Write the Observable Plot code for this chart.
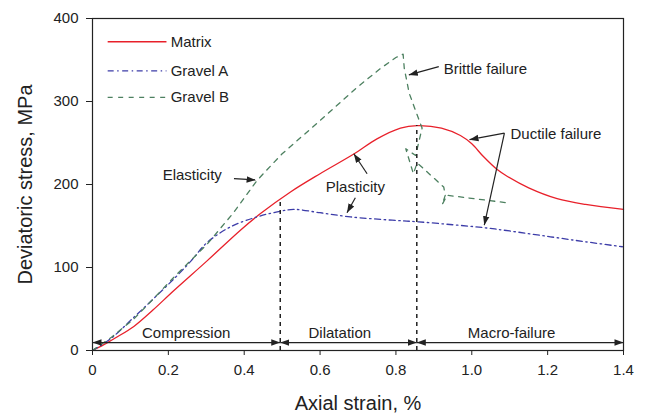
<!DOCTYPE html>
<html><head><meta charset="utf-8">
<script src="https://cdn.jsdelivr.net/npm/d3@7"></script>
<script src="https://cdn.jsdelivr.net/npm/@observablehq/plot@0.6"></script>
<style>
html,body{margin:0;padding:0;background:#fff;}
#chart{width:646px;height:414px;}
</style></head><body><div id="chart"></div>
<script>
// ---------- data ----------
const seriesNames = ["Matrix", "Gravel A", "Gravel B"];

const matrixStrain = [0, 0.03, 0.06, 0.109, 0.16, 0.214, 0.302, 0.39, 0.443, 0.522, 0.6, 0.69, 0.75, 0.812, 0.856, 0.92, 0.97, 1.0, 1.03, 1.067, 1.093, 1.15, 1.225, 1.3, 1.4];
const matrixStress = [0, 7, 15, 29, 49, 72, 108, 145, 165, 191, 213, 237, 255, 268, 271, 268, 259, 249, 234, 218, 210, 196, 183, 176, 170];

const gravelAStrain = [0, 0.05, 0.109, 0.16, 0.214, 0.26, 0.302, 0.364, 0.434, 0.487, 0.53, 0.6, 0.68, 0.79, 0.86, 0.95, 1.032, 1.1, 1.207, 1.3, 1.397];
const gravelAStress = [0, 15, 40, 62, 86, 108, 130, 149, 161, 167, 170, 166, 161, 157, 155, 151.5, 148, 144, 137, 131, 125];

const gravelBStrain = [0, 0.05, 0.109, 0.16, 0.214, 0.302, 0.37, 0.434, 0.5, 0.6, 0.7, 0.76, 0.8, 0.819, 0.822, 0.835, 0.855, 0.869, 0.852, 0.826, 0.846, 0.856, 0.926, 0.93, 0.922, 0.935, 1.093];
const gravelBStress = [0, 16, 38, 62, 88, 128, 165, 205, 237, 277, 318, 340, 353, 357, 340, 310, 285, 268, 235, 243, 213, 226, 197, 187, 176, 187, 178];

const xTicks = [0, 0.2, 0.4, 0.6, 0.8, 1.0, 1.2, 1.4];
const xTickLabels = ["0", "0.2", "0.4", "0.6", "0.8", "1.0", "1.2", "1.4"];
const yTicks = [0, 100, 200, 300, 400];
const xTitle = "Axial strain, %";
const yTitle = "Deviatoric stress, MPa";

// stage boundaries (dashed verticals) and stage arrows
const boundaryStrain = [0.495, 0.855];
const boundaryTop = [182, 271];
const phaseNames = ["Compression", "Dilatation", "Macro-failure"];
const phaseStart = [0, 0.495, 0.855];
const phaseEnd = [0.495, 0.855, 1.4];
const phaseLabelX = [0.247, 0.652, 1.105];
const phaseArrowY = 9.6;
const phaseLabelY = 20.5;

// annotations
const noteStartText = ["Brittle failure", "Ductile failure"];
const noteStartX = [0.926, 1.102];
const noteStartY = [339, 261];
const noteMidText = ["Elasticity", "Plasticity"];
const noteMidX = [0.263, 0.693];
const noteMidY = [211, 197];
const arrowFromX = [0.913, 1.086, 1.086, 0.724, 0.693, 0.373];
const arrowFromY = [342, 262, 262, 213, 184, 207];
const arrowToX = [0.834, 0.994, 1.033, 0.689, 0.671, 0.43];
const arrowToY = [332, 254, 151, 237, 166, 205.5];

// legend placement (inside the plot, data units)
const legendX1 = 0.04, legendX2 = 0.195, legendTextX = 0.206;
const legendY = [372, 337, 305];

// ---------- styles ----------
const colors = ["#e8202a", "#3c3ca8", "#4d8060"];
const dashes = [null, "6,3.5,1.5,3.5", "5,5.5"];
const curves = ["catmull-rom", "catmull-rom", "linear"];
const ink = "#222";

// ---------- build tables ----------
const toRows = (xs, ys) => xs.map((x, i) => ({x, y: ys[i]}));
const seriesRows = [
  toRows(matrixStrain, matrixStress),
  toRows(gravelAStrain, gravelAStress),
  toRows(gravelBStrain, gravelBStress)
];
const boundaries = boundaryStrain.map((x, i) => ({x, top: boundaryTop[i]}));
const phases = phaseNames.map((name, i) => ({name, x1: phaseStart[i], x2: phaseEnd[i], lx: phaseLabelX[i]}));
const noteStart = noteStartText.map((t, i) => ({t, x: noteStartX[i], y: noteStartY[i]}));
const noteMid = noteMidText.map((t, i) => ({t, x: noteMidX[i], y: noteMidY[i]}));
const arrows = arrowFromX.map((x, i) => ({x1: x, y1: arrowFromY[i], x2: arrowToX[i], y2: arrowToY[i]}));
const legendRows = seriesNames.map((name, i) => ({name, y: legendY[i]}));

// filled arrowhead marker
function filledArrow(color, context) {
  const doc = (context && context.document) || document;
  const ns = "http://www.w3.org/2000/svg";
  const m = doc.createElementNS(ns, "marker");
  m.setAttribute("viewBox", "-10 -5 11 10");
  m.setAttribute("markerWidth", "10");
  m.setAttribute("markerHeight", "9");
  m.setAttribute("markerUnits", "userSpaceOnUse");
  m.setAttribute("refX", "0");
  m.setAttribute("refY", "0");
  m.setAttribute("orient", "auto-start-reverse");
  m.setAttribute("fill", color);
  m.setAttribute("stroke", "none");
  const p = doc.createElementNS(ns, "path");
  p.setAttribute("d", "M-10,-3.6L0,0L-10,3.6Z");
  m.appendChild(p);
  return m;
}
let head = filledArrow;
try { Plot.link([], {x1: 0, x2: 0, y1: 0, y2: 0, markerEnd: filledArrow}); } catch (e) { head = "arrow"; }

const marks = [];
// series
seriesRows.forEach((rows, i) => {
  marks.push(Plot.line(rows, {x: "x", y: "y", stroke: colors[i], strokeWidth: 1.3, curve: curves[i], strokeDasharray: dashes[i] || undefined}));
});
// boundaries
marks.push(Plot.ruleX(boundaries, {x: "x", y1: 0, y2: "top", stroke: ink, strokeWidth: 1.5, strokeDasharray: "4,4"}));
// stage arrows
marks.push(Plot.link(phases, {x1: "x1", x2: "x2", y1: () => phaseArrowY, y2: () => phaseArrowY, stroke: ink, strokeWidth: 1.3, markerStart: head, markerEnd: head}));
marks.push(Plot.text(phases, {x: "lx", y: () => phaseLabelY, text: "name", fontSize: 15, fill: ink}));
// annotations
marks.push(Plot.link(arrows, {x1: "x1", y1: "y1", x2: "x2", y2: "y2", stroke: ink, strokeWidth: 1.2, markerEnd: head}));
marks.push(Plot.text(noteStart, {x: "x", y: "y", text: "t", textAnchor: "start", fontSize: 15, fill: ink}));
marks.push(Plot.text(noteMid, {x: "x", y: "y", text: "t", textAnchor: "middle", fontSize: 15, fill: ink}));
// legend
legendRows.forEach((r, i) => {
  marks.push(Plot.link([r], {x1: () => legendX1, x2: () => legendX2, y1: "y", y2: "y", stroke: colors[i], strokeWidth: 1.3, strokeDasharray: dashes[i] || undefined}));
});
marks.push(Plot.text(legendRows, {x: () => legendTextX, y: "y", text: "name", textAnchor: "start", fontSize: 15, fill: ink}));
// axes and frame
marks.push(Plot.axisX(xTicks, {tickFormat: d => xTickLabels[xTicks.indexOf(d)], tickSize: 5, tickPadding: 9, fontSize: 15, label: null, stroke: ink}));
marks.push(Plot.axisY(yTicks, {tickSize: 6, tickPadding: 8, fontSize: 15, label: null, stroke: ink}));
marks.push(Plot.frame({stroke: ink, strokeWidth: 1.2}));
marks.push(Plot.text([xTitle], {frameAnchor: "bottom", dy: 53, text: d => d, textAnchor: "middle", lineAnchor: "middle", fontSize: 20, fill: ink}));
marks.push(Plot.text([yTitle], {frameAnchor: "left", dx: -67, rotate: -90, text: d => d, textAnchor: "middle", lineAnchor: "middle", fontSize: 20, fill: ink}));

const chart = Plot.plot({
  width: 646,
  height: 414,
  marginLeft: 92,
  marginRight: 23,
  marginTop: 18,
  marginBottom: 64,
  x: {domain: [0, 1.4]},
  y: {domain: [0, 400]},
  style: {fontFamily: "'Liberation Sans', Arial, sans-serif", fontSize: "15px", color: ink, background: "#fff", overflow: "visible"},
  marks
});
document.getElementById("chart").appendChild(chart);
</script></body></html>
